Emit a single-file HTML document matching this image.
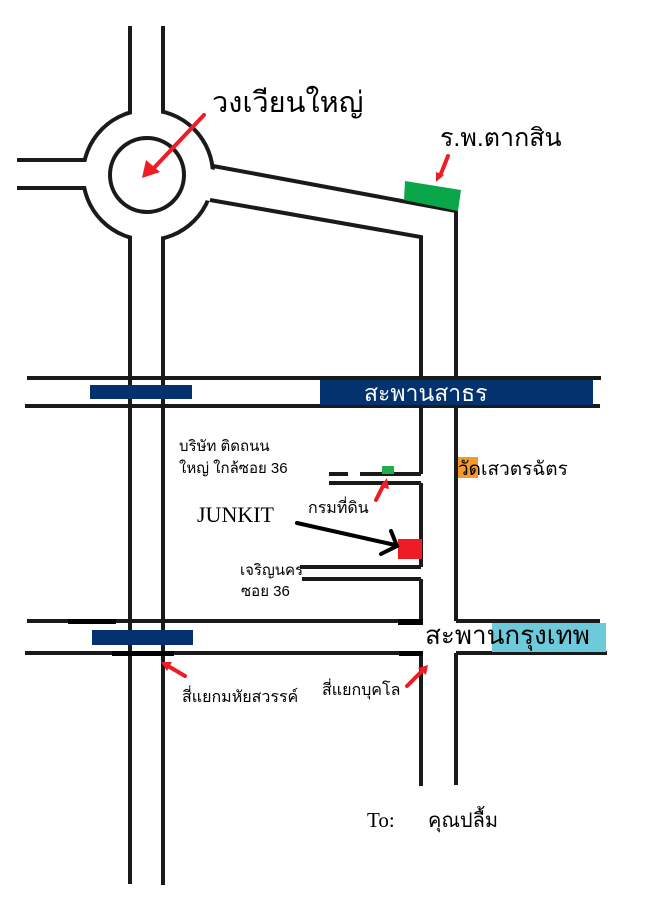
<!DOCTYPE html>
<html><head><meta charset="utf-8"><style>
html,body{margin:0;padding:0;background:#fff;}
svg{display:block;}
text{font-family:"Liberation Sans","Noto Sans CJK SC",sans-serif;}
</style></head><body>
<svg width="650" height="919" viewBox="0 0 650 919" xmlns="http://www.w3.org/2000/svg">
<rect width="650" height="919" fill="#fff"/>
<g stroke="#1a1a1a" stroke-width="4" fill="none">
  <!-- roundabout -->
  <circle cx="148" cy="175" r="65"/>
  <circle cx="147" cy="175" r="37"/>
</g>
<!-- white gaps in outer circle -->
<rect x="132" y="100" width="29" height="30" fill="#fff"/>
<rect x="132" y="222" width="29" height="30" fill="#fff"/>
<rect x="70" y="162" width="30" height="24" fill="#fff"/>
<polygon points="205,168 240,175 240,207 205,200" fill="#fff"/>
<g stroke="#1a1a1a" stroke-width="4" fill="none" stroke-linecap="butt">
  <!-- left vertical road -->
  <line x1="130" y1="26" x2="130" y2="113"/>
  <line x1="163" y1="26" x2="163" y2="113"/>
  <line x1="130" y1="237" x2="130" y2="884"/>
  <line x1="163" y1="237" x2="163" y2="885"/>
  <!-- left horizontal -->
  <line x1="17" y1="160" x2="86" y2="160"/>
  <line x1="17" y1="188" x2="86" y2="188"/>
  <!-- diagonal -->
  <polyline points="213,166 456,211 456,400"/>
  <polyline points="210,200 421,237 421,378"/>
  <!-- right vertical below sathorn -->
  <line x1="421" y1="406" x2="421" y2="474"/>
  <line x1="421" y1="483" x2="421" y2="567"/>
  <line x1="421" y1="579" x2="421" y2="621"/>
  <line x1="456" y1="406" x2="456" y2="621"/>
  <line x1="421" y1="653" x2="421" y2="786"/>
  <line x1="456" y1="653" x2="456" y2="785"/>
  <!-- sathorn road -->
  <line x1="27" y1="378" x2="601" y2="378"/>
  <line x1="25" y1="406" x2="600" y2="406"/>
  <!-- krungthep road -->
  <line x1="27" y1="621" x2="421" y2="621"/>
  <line x1="456" y1="621" x2="600" y2="621"/>
  <line x1="25" y1="653" x2="421" y2="653"/>
  <line x1="456" y1="653" x2="607" y2="653"/>
  <!-- soi lines -->
  <line x1="329" y1="474" x2="348" y2="474"/>
  <line x1="360" y1="474" x2="421" y2="474"/>
  <line x1="329" y1="483" x2="421" y2="483"/>
  <line x1="300" y1="567" x2="421" y2="567"/>
  <line x1="302" y1="579" x2="421" y2="579"/>
</g>
<!-- thicker segments -->
<rect x="68" y="619" width="48" height="5" fill="#000"/>
<rect x="398" y="619" width="25" height="6" fill="#000"/>
<rect x="112" y="651" width="62" height="5" fill="#000"/>
<rect x="399" y="651" width="24" height="5" fill="#000"/>
<!-- blue boxes -->
<rect x="90" y="385" width="102" height="14" fill="#03326e"/>
<rect x="320" y="380" width="273" height="25" fill="#03326e"/>
<rect x="92" y="630" width="101" height="15" fill="#03326e"/>
<rect x="492" y="623" width="114" height="29" fill="#6ccadb"/>
<rect x="458" y="457" width="20" height="21" fill="#f39a2a"/>
<!-- green -->
<polygon points="405,181 461,190 458,211 404,200" fill="#0aa64a"/>
<rect x="382" y="466" width="12" height="8" fill="#1fae4a"/>
<!-- red -->
<rect x="398" y="539" width="24" height="20" fill="#ee1c24"/>
<g stroke="#ee1c24" stroke-width="4" fill="none" stroke-linecap="round">
  <line x1="204" y1="115" x2="152" y2="170"/>
  <line x1="448" y1="156" x2="440" y2="176"/>
  <line x1="376" y1="500" x2="384" y2="484"/>
  <line x1="185" y1="676" x2="168" y2="666"/>
  <line x1="407" y1="686" x2="423" y2="670"/>
</g>
<g fill="#ee1c24">
  <polygon points="142,178 146,160 160,172"/>
  <polygon points="436,182 436,172 444,175"/>
  <polygon points="387,478 380,487 389,489"/>
  <polygon points="161,662 172,662 167,671"/>
  <polygon points="428,665 418,668 426,675"/>
</g>
<!-- black arrow -->
<g stroke="#000" stroke-width="4" fill="none" stroke-linecap="round">
  <line x1="297" y1="523" x2="395" y2="545"/>
  <polyline points="391,531 397,546 381,554"/>
</g>
<!-- texts -->
<text x="212" y="112" font-size="29" fill="#000">วงเวียนใหญ่</text>
<text x="440" y="146" font-size="25" fill="#000">ร.พ.ตากสิน</text>
<text x="364" y="401" font-size="23" fill="#fff">สะพานสาธร</text>
<text x="179" y="451" font-size="15" fill="#000">บริษัท  ติดถนน</text>
<text x="179" y="473" font-size="15" fill="#000">ใหญ่ ใกล้ซอย 36</text>
<text x="458" y="475" font-size="19" fill="#000">วัดเสวตรฉัตร</text>
<text x="308" y="513" font-size="16" fill="#000">กรมที่ดิน</text>
<text x="197" y="522" font-size="22" font-family="Liberation Serif, serif" style="font-family:'Liberation Serif',serif" fill="#000">JUNKIT</text>
<text x="240" y="575" font-size="15" fill="#000">เจริญนคร</text>
<text x="241" y="596" font-size="15" fill="#000">ซอย 36</text>
<text x="425" y="644" font-size="26" fill="#000">สะพานกรุงเทพ</text>
<text x="182" y="702" font-size="16" fill="#000">สี่แยกมหัยสวรรค์</text>
<text x="322" y="695" font-size="16" fill="#000">สี่แยกบุคโล</text>
<text x="367" y="827" font-size="21" style="font-family:'Liberation Serif',serif" fill="#000">To:</text>
<text x="428" y="827" font-size="20" fill="#000">คุณปลื้ม</text>
</svg>
</body></html>
